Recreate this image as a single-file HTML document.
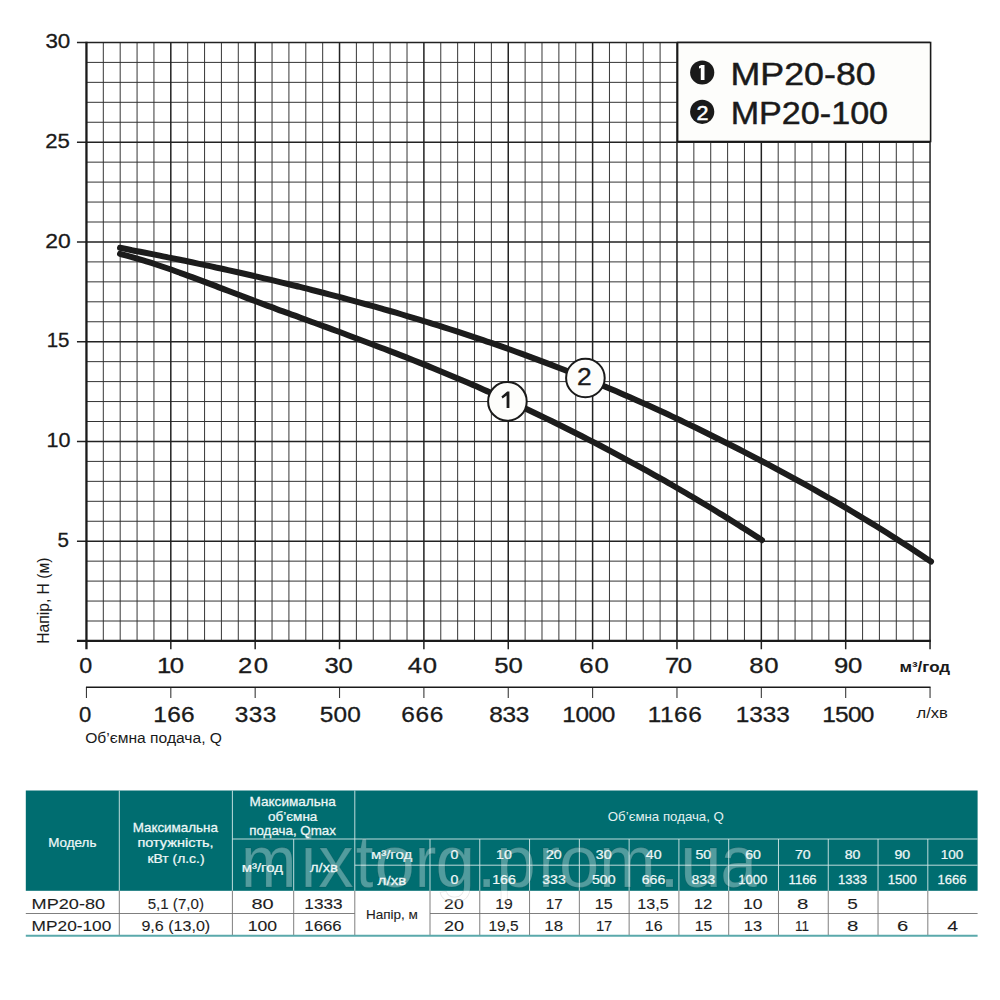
<!DOCTYPE html>
<html><head><meta charset="utf-8"><title>MP20 pump curves</title>
<style>
html,body{margin:0;padding:0;background:#fff;}
body{width:1000px;height:1000px;overflow:hidden;font-family:"Liberation Sans",sans-serif;}
svg{display:block;}
svg text{font-family:"Liberation Sans",sans-serif;}
</style></head><body>
<svg width="1000" height="1000" viewBox="0 0 1000 1000">
<rect width="1000" height="1000" fill="#ffffff"/>
<path d="M103.32 42.45V640.95M120.19 42.45V640.95M137.07 42.45V640.95M153.94 42.45V640.95M187.68 42.45V640.95M204.55 42.45V640.95M221.43 42.45V640.95M238.30 42.45V640.95M272.04 42.45V640.95M288.91 42.45V640.95M305.79 42.45V640.95M322.66 42.45V640.95M356.40 42.45V640.95M373.27 42.45V640.95M390.15 42.45V640.95M407.02 42.45V640.95M440.76 42.45V640.95M457.63 42.45V640.95M474.51 42.45V640.95M491.38 42.45V640.95M525.12 42.45V640.95M541.99 42.45V640.95M558.87 42.45V640.95M575.74 42.45V640.95M609.48 42.45V640.95M626.35 42.45V640.95M643.23 42.45V640.95M660.10 42.45V640.95M693.84 42.45V640.95M710.71 42.45V640.95M727.59 42.45V640.95M744.46 42.45V640.95M778.20 42.45V640.95M795.07 42.45V640.95M811.95 42.45V640.95M828.82 42.45V640.95M862.56 42.45V640.95M879.43 42.45V640.95M896.31 42.45V640.95M913.18 42.45V640.95" stroke="#404040" stroke-width="1.05" fill="none"/>
<path d="M86.45 621.00H930.05M86.45 601.05H930.05M86.45 581.10H930.05M86.45 561.15H930.05M86.45 521.25H930.05M86.45 501.30H930.05M86.45 481.35H930.05M86.45 461.40H930.05M86.45 421.50H930.05M86.45 401.55H930.05M86.45 381.60H930.05M86.45 361.65H930.05M86.45 321.75H930.05M86.45 301.80H930.05M86.45 281.85H930.05M86.45 261.90H930.05M86.45 222.00H930.05M86.45 202.05H930.05M86.45 182.10H930.05M86.45 162.15H930.05M86.45 122.25H930.05M86.45 102.30H930.05M86.45 82.35H930.05M86.45 62.40H930.05" stroke="#333" stroke-width="1.0" fill="none"/>
<path d="M170.81 42.45V649.15M255.17 42.45V649.15M339.53 42.45V649.15M423.89 42.45V649.15M508.25 42.45V649.15M592.61 42.45V649.15M676.97 42.45V649.15M761.33 42.45V649.15M845.69 42.45V649.15M930.05 42.45V649.15M76.95 541.20H930.05M76.95 441.45H930.05M76.95 341.70H930.05M76.95 241.95H930.05M76.95 142.20H930.05M76.95 42.45H930.05" stroke="#222" stroke-width="1.5" fill="none"/>
<path d="M86.45 41.75V649.15" stroke="#1a1a1a" stroke-width="2.3" fill="none"/>
<path d="M76.95 640.95H930.85" stroke="#1a1a1a" stroke-width="2.2" fill="none"/>
<path d="M86.45 687.30V697.90M170.81 687.30V697.90M255.17 687.30V697.90M339.53 687.30V697.90M423.89 687.30V697.90M508.25 687.30V697.90M592.61 687.30V697.90M676.97 687.30V697.90M761.33 687.30V697.90M845.69 687.30V697.90M930.05 687.30V697.90" stroke="#3a3a3a" stroke-width="1.1" fill="none"/>
<path d="M85.95 687.30H930.55" stroke="#1a1a1a" stroke-width="1.6" fill="none"/>
<path d="M120.0 253.8C122.0 254.4 128.0 256.0 132.0 257.1C136.0 258.3 140.0 259.5 144.0 260.7C148.0 261.9 152.0 263.2 156.0 264.5C160.0 265.8 164.0 267.2 168.0 268.5C172.0 269.9 176.0 271.3 180.0 272.8C184.0 274.2 188.0 275.6 192.0 277.1C196.0 278.6 200.0 280.1 204.0 281.6C208.0 283.1 212.0 284.6 216.0 286.1C220.0 287.7 224.0 289.2 228.0 290.7C232.0 292.2 236.0 293.8 240.0 295.3C244.0 296.8 248.0 298.4 252.0 299.9C256.0 301.4 260.0 302.9 264.0 304.4C268.0 305.9 272.0 307.4 276.0 308.8C280.0 310.3 284.0 311.8 288.0 313.2C292.0 314.7 296.0 316.2 300.0 317.6C304.0 319.1 308.0 320.5 312.0 322.0C316.0 323.4 320.0 324.9 324.0 326.4C328.0 327.8 332.0 329.3 336.0 330.8C340.0 332.2 344.0 333.7 348.0 335.2C352.0 336.7 356.0 338.2 360.0 339.7C364.0 341.2 368.0 342.7 372.0 344.2C376.0 345.7 380.0 347.2 384.0 348.8C388.0 350.3 392.0 351.9 396.0 353.4C400.0 355.0 404.0 356.6 408.0 358.1C412.0 359.7 416.0 361.3 420.0 362.9C424.0 364.5 428.0 366.1 432.0 367.8C436.0 369.4 440.0 371.1 444.0 372.7C448.0 374.4 452.0 376.0 456.0 377.7C460.0 379.4 464.0 381.1 468.0 382.8C472.0 384.6 476.0 386.3 480.0 388.0C484.0 389.8 488.0 391.6 492.0 393.3C496.0 395.1 500.0 396.9 504.0 398.7C508.0 400.5 512.0 402.4 516.0 404.2C520.0 406.1 524.0 407.9 528.0 409.8C532.0 411.7 536.0 413.6 540.0 415.5C544.0 417.4 548.0 419.4 552.0 421.3C556.0 423.3 560.0 425.2 564.0 427.2C568.0 429.2 572.0 431.2 576.0 433.2C580.0 435.2 584.0 437.3 588.0 439.3C592.0 441.4 596.0 443.4 600.0 445.5C604.0 447.6 608.0 449.7 612.0 451.8C616.0 454.0 620.0 456.1 624.0 458.3C628.0 460.4 632.0 462.6 636.0 464.8C640.0 467.0 644.0 469.2 648.0 471.4C652.0 473.7 656.0 475.9 660.0 478.2C664.0 480.4 668.0 482.7 672.0 485.0C676.0 487.3 680.0 489.7 684.0 492.0C688.0 494.3 692.0 496.7 696.0 499.1C700.0 501.5 704.0 503.9 708.0 506.3C712.0 508.7 716.0 511.1 720.0 513.6C724.0 516.0 728.0 518.5 732.0 521.0C736.0 523.5 740.0 526.0 744.0 528.6C748.0 531.1 753.0 534.3 756.0 536.2C759.0 538.1 761.0 539.4 762.0 540.1" stroke="#1c1c1c" stroke-width="6.0" fill="none" stroke-linecap="round" stroke-linejoin="round"/>
<path d="M120.0 247.8C122.0 248.2 128.0 249.4 132.0 250.2C136.0 250.9 140.0 251.7 144.0 252.5C148.0 253.3 152.0 254.1 156.0 254.9C160.0 255.7 164.0 256.5 168.0 257.4C172.0 258.2 176.0 259.0 180.0 259.8C184.0 260.7 188.0 261.5 192.0 262.3C196.0 263.2 200.0 264.0 204.0 264.9C208.0 265.7 212.0 266.6 216.0 267.5C220.0 268.3 224.0 269.2 228.0 270.1C232.0 271.0 236.0 271.9 240.0 272.8C244.0 273.7 248.0 274.6 252.0 275.5C256.0 276.4 260.0 277.4 264.0 278.3C268.0 279.2 272.0 280.2 276.0 281.1C280.0 282.1 284.0 283.0 288.0 284.0C292.0 285.0 296.0 286.0 300.0 286.9C304.0 287.9 308.0 288.9 312.0 290.0C316.0 291.0 320.0 292.0 324.0 293.0C328.0 294.0 332.0 295.1 336.0 296.1C340.0 297.2 344.0 298.2 348.0 299.3C352.0 300.4 356.0 301.5 360.0 302.6C364.0 303.7 368.0 304.8 372.0 305.9C376.0 307.0 380.0 308.1 384.0 309.3C388.0 310.4 392.0 311.6 396.0 312.7C400.0 313.9 404.0 315.1 408.0 316.3C412.0 317.5 416.0 318.7 420.0 319.9C424.0 321.1 428.0 322.3 432.0 323.6C436.0 324.8 440.0 326.1 444.0 327.3C448.0 328.6 452.0 329.9 456.0 331.2C460.0 332.5 464.0 333.8 468.0 335.1C472.0 336.4 476.0 337.8 480.0 339.1C484.0 340.5 488.0 341.9 492.0 343.2C496.0 344.6 500.0 346.0 504.0 347.4C508.0 348.8 512.0 350.3 516.0 351.7C520.0 353.2 524.0 354.6 528.0 356.1C532.0 357.6 536.0 359.1 540.0 360.6C544.0 362.1 548.0 363.6 552.0 365.1C556.0 366.7 560.0 368.2 564.0 369.8C568.0 371.4 572.0 373.0 576.0 374.6C580.0 376.2 584.0 377.8 588.0 379.4C592.0 381.1 596.0 382.7 600.0 384.4C604.0 386.1 608.0 387.8 612.0 389.5C616.0 391.2 620.0 392.9 624.0 394.7C628.0 396.4 632.0 398.2 636.0 399.9C640.0 401.7 644.0 403.5 648.0 405.3C652.0 407.1 656.0 409.0 660.0 410.8C664.0 412.6 668.0 414.5 672.0 416.4C676.0 418.3 680.0 420.1 684.0 422.1C688.0 424.0 692.0 425.9 696.0 427.8C700.0 429.8 704.0 431.7 708.0 433.7C712.0 435.7 716.0 437.7 720.0 439.7C724.0 441.7 728.0 443.7 732.0 445.7C736.0 447.7 740.0 449.8 744.0 451.8C748.0 453.9 752.0 456.0 756.0 458.1C760.0 460.2 764.0 462.3 768.0 464.4C772.0 466.5 776.0 468.7 780.0 470.8C784.0 473.0 788.0 475.1 792.0 477.3C796.0 479.5 800.0 481.7 804.0 483.9C808.0 486.1 812.0 488.4 816.0 490.6C820.0 492.9 824.0 495.2 828.0 497.5C832.0 499.8 836.0 502.1 840.0 504.4C844.0 506.8 848.0 509.1 852.0 511.5C856.0 513.9 860.0 516.3 864.0 518.7C868.0 521.1 872.0 523.6 876.0 526.0C880.0 528.5 884.0 531.0 888.0 533.5C892.0 536.0 896.0 538.6 900.0 541.2C904.0 543.7 908.0 546.3 912.0 548.9C916.0 551.6 920.8 554.8 924.0 556.9C927.2 559.0 929.8 560.8 931.0 561.6" stroke="#1c1c1c" stroke-width="6.0" fill="none" stroke-linecap="round" stroke-linejoin="round"/>
<circle cx="507.4" cy="401.4" r="19.3" fill="#fdfdfb" stroke="#1a1a1a" stroke-width="2.0"/>
<path d="M509.4 391.5V408H506.6V395.4L502.6 398.6L501.4 396.6L507.2 391.5Z" fill="#1a1a1a"/>
<circle cx="585.4" cy="378.0" r="19.3" fill="#fdfdfb" stroke="#1a1a1a" stroke-width="2.0"/>
<text transform="translate(577.08,385.00) scale(1.1467,1)" font-size="23" fill="#1a1a1a" stroke="#1a1a1a" stroke-width="0.35">2</text>
<rect x="677.6" y="42.5" width="253" height="99" fill="#fdfdfb" stroke="#1a1a1a" stroke-width="1.6"/>
<circle cx="702.2" cy="72.5" r="12.1" fill="#1a1a1a"/>
<path d="M699 66.2L701.2 65H704.5V80H700.8V68.1L699 68.6Z" fill="#fff"/>
<text transform="translate(730.54,84.50) scale(1.1361,1)" font-size="31.5" fill="#1a1a1a" stroke="#1a1a1a" stroke-width="0.45">MP20-80</text>
<circle cx="702.2" cy="111.8" r="12.1" fill="#1a1a1a"/>
<text transform="translate(696.52,119.50) scale(1.0256,1)" font-size="21" fill="#fff" stroke="#fff" stroke-width="0.5">2</text>
<text transform="translate(730.67,124.00) scale(1.0836,1)" font-size="31.5" fill="#1a1a1a" stroke="#1a1a1a" stroke-width="0.45">MP20-100</text>
<text transform="translate(57.47,546.80) scale(0.9825,1)" font-size="21" fill="#1a1a1a" stroke="#1a1a1a" stroke-width="0.3">5</text>
<text transform="translate(46.58,447.05) scale(1.0286,1)" font-size="21" fill="#1a1a1a" stroke="#1a1a1a" stroke-width="0.3">10</text>
<text transform="translate(46.66,347.30) scale(0.9763,1)" font-size="21" fill="#1a1a1a" stroke="#1a1a1a" stroke-width="0.3">15</text>
<text transform="translate(45.15,247.55) scale(1.0918,1)" font-size="21" fill="#1a1a1a" stroke="#1a1a1a" stroke-width="0.3">20</text>
<text transform="translate(45.19,147.80) scale(1.0551,1)" font-size="21" fill="#1a1a1a" stroke="#1a1a1a" stroke-width="0.3">25</text>
<text transform="translate(45.40,48.05) scale(1.0674,1)" font-size="21" fill="#1a1a1a" stroke="#1a1a1a" stroke-width="0.3">30</text>
<text transform="translate(79.27,672.70) scale(1.0703,1)" font-size="21.8" fill="#1a1a1a" stroke="#1a1a1a" stroke-width="0.3">0</text>
<text transform="translate(156.97,672.70) scale(1.1800,1)" font-size="21.8" letter-spacing="-1.207" fill="#1a1a1a" stroke="#1a1a1a" stroke-width="0.3">10</text>
<text transform="translate(237.91,672.70) scale(1.1800,1)" font-size="21.8" letter-spacing="1.384" fill="#1a1a1a" stroke="#1a1a1a" stroke-width="0.3">20</text>
<text transform="translate(324.57,672.70) scale(1.1800,1)" font-size="21.8" letter-spacing="-0.360" fill="#1a1a1a" stroke="#1a1a1a" stroke-width="0.3">30</text>
<text transform="translate(407.69,672.70) scale(1.1800,1)" font-size="21.8" letter-spacing="0.560" fill="#1a1a1a" stroke="#1a1a1a" stroke-width="0.3">40</text>
<text transform="translate(494.17,672.70) scale(1.1800,1)" font-size="21.8" letter-spacing="-0.021" fill="#1a1a1a" stroke="#1a1a1a" stroke-width="0.3">50</text>
<text transform="translate(579.31,672.70) scale(1.1800,1)" font-size="21.8" letter-spacing="0.706" fill="#1a1a1a" stroke="#1a1a1a" stroke-width="0.3">60</text>
<text transform="translate(664.91,672.70) scale(1.1800,1)" font-size="21.8" letter-spacing="-1.159" fill="#1a1a1a" stroke="#1a1a1a" stroke-width="0.3">70</text>
<text transform="translate(749.24,672.70) scale(1.1800,1)" font-size="21.8" letter-spacing="0.597" fill="#1a1a1a" stroke="#1a1a1a" stroke-width="0.3">80</text>
<text transform="translate(834.04,672.70) scale(1.1800,1)" font-size="21.8" letter-spacing="-0.251" fill="#1a1a1a" stroke="#1a1a1a" stroke-width="0.3">90</text>
<text transform="translate(79.12,722.20) scale(1.0130,1)" font-size="21.8" fill="#1a1a1a" stroke="#1a1a1a" stroke-width="0.3">0</text>
<text transform="translate(153.37,722.20) scale(1.1200,1)" font-size="21.8" letter-spacing="0.248" fill="#1a1a1a" stroke="#1a1a1a" stroke-width="0.3">166</text>
<text transform="translate(234.72,722.20) scale(1.1200,1)" font-size="21.8" letter-spacing="0.357" fill="#1a1a1a" stroke="#1a1a1a" stroke-width="0.3">333</text>
<text transform="translate(319.82,722.20) scale(1.1200,1)" font-size="21.8" letter-spacing="0.080" fill="#1a1a1a" stroke="#1a1a1a" stroke-width="0.3">500</text>
<text transform="translate(401.18,722.20) scale(1.1200,1)" font-size="21.8" letter-spacing="0.690" fill="#1a1a1a" stroke="#1a1a1a" stroke-width="0.3">666</text>
<text transform="translate(489.30,722.20) scale(1.1200,1)" font-size="21.8" letter-spacing="-0.347" fill="#1a1a1a" stroke="#1a1a1a" stroke-width="0.3">833</text>
<text transform="translate(562.17,722.20) scale(1.1200,1)" font-size="21.8" letter-spacing="-0.309" fill="#1a1a1a" stroke="#1a1a1a" stroke-width="0.3">1000</text>
<text transform="translate(647.77,722.20) scale(1.1200,1)" font-size="21.8" letter-spacing="0.450" fill="#1a1a1a" stroke="#1a1a1a" stroke-width="0.3">1166</text>
<text transform="translate(735.77,722.20) scale(1.1200,1)" font-size="21.8" letter-spacing="-0.095" fill="#1a1a1a" stroke="#1a1a1a" stroke-width="0.3">1333</text>
<text transform="translate(822.17,722.20) scale(1.1200,1)" font-size="21.8" letter-spacing="-0.607" fill="#1a1a1a" stroke="#1a1a1a" stroke-width="0.3">1500</text>
<text transform="translate(899.41,672.30) scale(1.1640,1)" font-size="14.6" fill="#1a1a1a" font-weight="bold">м³/год</text>
<text transform="translate(916.52,718.20) scale(1.1206,1)" font-size="14.8" fill="#1a1a1a">л/хв</text>
<text transform="translate(85.20,743.10) scale(1.0215,1)" font-size="15.3" fill="#1a1a1a">Об’ємна подача, Q</text>
<g transform="translate(49.0,642.5) rotate(-90)"><text transform="translate(-1.25,0.00) scale(0.9910,1)" font-size="15.8" fill="#1a1a1a">Напір, Н (м)</text></g>
<rect x="25.8" y="790.5" width="951.8000000000001" height="100.29999999999995" fill="#006d70"/>
<path d="M119.3 790.5V890.8M232.4 790.5V890.8M354.8 790.5V890.8M232.4 839.0H977.6M293.7 839.0V890.8M354.8 865.2H977.6M430.00 839.0V890.8M479.78 839.0V890.8M529.56 839.0V890.8M579.35 839.0V890.8M629.13 839.0V890.8M678.91 839.0V890.8M728.69 839.0V890.8M778.47 839.0V890.8M828.25 839.0V890.8M878.04 839.0V890.8M927.82 839.0V890.8" stroke="#d4e8e8" stroke-width="0.9" fill="none"/>
<path d="M119.3 890.8V935.8M232.4 890.8V935.8M293.7 890.8V935.8M354.8 890.8V935.8M430.00 890.8V935.8M479.78 890.8V935.8M529.56 890.8V935.8M579.35 890.8V935.8M629.13 890.8V935.8M678.91 890.8V935.8M728.69 890.8V935.8M778.47 890.8V935.8M828.25 890.8V935.8M878.04 890.8V935.8M927.82 890.8V935.8M25.8 913.5H354.8M430.0 913.5H977.6" stroke="#707070" stroke-width="0.9" fill="none"/>
<path d="M25.8 935.8H977.6" stroke="#5aa9ab" stroke-width="2.0" fill="none"/>
<text transform="translate(48.23,847.30) scale(1.0410,1)" font-size="12.9" fill="#eef7f7" stroke="#eef7f7" stroke-width="0.25">Модель</text>
<text transform="translate(132.63,831.50) scale(1.0398,1)" font-size="12.9" fill="#eef7f7" stroke="#eef7f7" stroke-width="0.25">Максимальна</text>
<text transform="translate(137.38,847.30) scale(1.1263,1)" font-size="12.9" fill="#eef7f7" stroke="#eef7f7" stroke-width="0.25">потужність,</text>
<text transform="translate(147.40,862.80) scale(1.0777,1)" font-size="12.9" fill="#eef7f7" stroke="#eef7f7" stroke-width="0.25">кВт (л.с.)</text>
<text transform="translate(249.51,805.80) scale(1.0521,1)" font-size="12.9" fill="#eef7f7" stroke="#eef7f7" stroke-width="0.25">Максимальна</text>
<text transform="translate(267.96,820.50) scale(1.0486,1)" font-size="12.9" fill="#eef7f7" stroke="#eef7f7" stroke-width="0.25">об’ємна</text>
<text transform="translate(249.26,835.20) scale(1.0356,1)" font-size="12.9" fill="#eef7f7" stroke="#eef7f7" stroke-width="0.25">подача, Qmax</text>
<text transform="translate(241.75,872.00) scale(1.1584,1)" font-size="12.9" fill="#eef7f7" stroke="#eef7f7" stroke-width="0.25">м³/год</text>
<text transform="translate(309.93,872.00) scale(1.1470,1)" font-size="12.9" fill="#eef7f7" stroke="#eef7f7" stroke-width="0.25">л/хв</text>
<text transform="translate(607.80,821.20) scale(1.0697,1)" font-size="12.4" fill="#e4f1f1">Об’ємна подача, Q</text>
<text transform="translate(370.95,859.40) scale(1.1584,1)" font-size="12.9" fill="#eef7f7" stroke="#eef7f7" stroke-width="0.25">м³/год</text>
<text transform="translate(377.62,884.60) scale(1.1722,1)" font-size="12.9" fill="#eef7f7" stroke="#eef7f7" stroke-width="0.25">л/хв</text>
<text transform="translate(450.43,858.70) scale(1.1500,1)" font-size="12.3" fill="#eef7f7" stroke="#eef7f7" stroke-width="0.25">0</text>
<text transform="translate(450.43,884.30) scale(1.1500,1)" font-size="12.3" fill="#eef7f7" stroke="#eef7f7" stroke-width="0.25">0</text>
<text transform="translate(496.04,858.70) scale(1.1500,1)" font-size="12.3" fill="#eef7f7" stroke="#eef7f7" stroke-width="0.25">10</text>
<text transform="translate(492.15,884.30) scale(1.1500,1)" font-size="12.3" fill="#eef7f7" stroke="#eef7f7" stroke-width="0.25">166</text>
<text transform="translate(546.00,858.70) scale(1.1500,1)" font-size="12.3" fill="#eef7f7" stroke="#eef7f7" stroke-width="0.25">20</text>
<text transform="translate(542.18,884.30) scale(1.1500,1)" font-size="12.3" fill="#eef7f7" stroke="#eef7f7" stroke-width="0.25">333</text>
<text transform="translate(595.85,858.70) scale(1.1500,1)" font-size="12.3" fill="#eef7f7" stroke="#eef7f7" stroke-width="0.25">30</text>
<text transform="translate(591.93,884.30) scale(1.1500,1)" font-size="12.3" fill="#eef7f7" stroke="#eef7f7" stroke-width="0.25">500</text>
<text transform="translate(645.77,858.70) scale(1.1500,1)" font-size="12.3" fill="#eef7f7" stroke="#eef7f7" stroke-width="0.25">40</text>
<text transform="translate(641.67,884.30) scale(1.1500,1)" font-size="12.3" fill="#eef7f7" stroke="#eef7f7" stroke-width="0.25">666</text>
<text transform="translate(695.41,858.70) scale(1.1500,1)" font-size="12.3" fill="#eef7f7" stroke="#eef7f7" stroke-width="0.25">50</text>
<text transform="translate(691.49,884.30) scale(1.1500,1)" font-size="12.3" fill="#eef7f7" stroke="#eef7f7" stroke-width="0.25">833</text>
<text transform="translate(745.13,858.70) scale(1.1500,1)" font-size="12.3" fill="#eef7f7" stroke="#eef7f7" stroke-width="0.25">60</text>
<text transform="translate(738.32,884.30) scale(1.0600,1)" font-size="12.3" fill="#eef7f7" stroke="#eef7f7" stroke-width="0.25">1000</text>
<text transform="translate(794.91,858.70) scale(1.1500,1)" font-size="12.3" fill="#eef7f7" stroke="#eef7f7" stroke-width="0.25">70</text>
<text transform="translate(788.62,884.30) scale(1.0600,1)" font-size="12.3" fill="#eef7f7" stroke="#eef7f7" stroke-width="0.25">1166</text>
<text transform="translate(844.72,858.70) scale(1.1500,1)" font-size="12.3" fill="#eef7f7" stroke="#eef7f7" stroke-width="0.25">80</text>
<text transform="translate(837.91,884.30) scale(1.0600,1)" font-size="12.3" fill="#eef7f7" stroke="#eef7f7" stroke-width="0.25">1333</text>
<text transform="translate(894.51,858.70) scale(1.1500,1)" font-size="12.3" fill="#eef7f7" stroke="#eef7f7" stroke-width="0.25">90</text>
<text transform="translate(887.66,884.30) scale(1.0600,1)" font-size="12.3" fill="#eef7f7" stroke="#eef7f7" stroke-width="0.25">1500</text>
<text transform="translate(940.67,858.70) scale(1.1000,1)" font-size="12.3" fill="#eef7f7" stroke="#eef7f7" stroke-width="0.25">100</text>
<text transform="translate(937.48,884.30) scale(1.0600,1)" font-size="12.3" fill="#eef7f7" stroke="#eef7f7" stroke-width="0.25">1666</text>
<text transform="translate(31.55,908.70) scale(1.1861,1)" font-size="15.3" fill="#1d1d1d" stroke="#1d1d1d" stroke-width="0.1">MP20-80</text>
<text transform="translate(31.62,931.10) scale(1.1300,1)" font-size="15.3" fill="#1d1d1d" stroke="#1d1d1d" stroke-width="0.1">MP20-100</text>
<text transform="translate(147.70,908.70) scale(0.9876,1)" font-size="15.3" fill="#1d1d1d" stroke="#1d1d1d" stroke-width="0.1">5,1 (7,0)</text>
<text transform="translate(141.38,931.10) scale(1.0517,1)" font-size="15.3" fill="#1d1d1d" stroke="#1d1d1d" stroke-width="0.1">9,6 (13,0)</text>
<text transform="translate(251.50,908.70) scale(1.3072,1)" font-size="15.3" fill="#1d1d1d" stroke="#1d1d1d" stroke-width="0.1">80</text>
<text transform="translate(247.68,931.10) scale(1.1517,1)" font-size="15.3" fill="#1d1d1d" stroke="#1d1d1d" stroke-width="0.1">100</text>
<text transform="translate(304.31,908.70) scale(1.1275,1)" font-size="15.3" fill="#1d1d1d" stroke="#1d1d1d" stroke-width="0.1">1333</text>
<text transform="translate(304.34,931.10) scale(1.0966,1)" font-size="15.3" fill="#1d1d1d" stroke="#1d1d1d" stroke-width="0.1">1666</text>
<text transform="translate(365.92,918.70) scale(1.0251,1)" font-size="13.2" fill="#1d1d1d" stroke="#1d1d1d" stroke-width="0.1">Напір, м</text>
<text transform="translate(444.12,908.70) scale(1.1478,1)" font-size="15.3" fill="#1d1d1d" stroke="#1d1d1d" stroke-width="0.1">20</text>
<text transform="translate(495.22,908.70) scale(1.0299,1)" font-size="15.3" fill="#1d1d1d" stroke="#1d1d1d" stroke-width="0.1">19</text>
<text transform="translate(545.86,908.70) scale(0.9953,1)" font-size="15.3" fill="#1d1d1d" stroke="#1d1d1d" stroke-width="0.1">17</text>
<text transform="translate(594.79,908.70) scale(1.0510,1)" font-size="15.3" fill="#1d1d1d" stroke="#1d1d1d" stroke-width="0.1">15</text>
<text transform="translate(637.19,908.70) scale(1.0572,1)" font-size="15.3" fill="#1d1d1d" stroke="#1d1d1d" stroke-width="0.1">13,5</text>
<text transform="translate(693.74,908.70) scale(1.1015,1)" font-size="15.3" fill="#1d1d1d" stroke="#1d1d1d" stroke-width="0.1">12</text>
<text transform="translate(743.08,908.70) scale(1.1503,1)" font-size="15.3" fill="#1d1d1d" stroke="#1d1d1d" stroke-width="0.1">10</text>
<text transform="translate(797.08,908.70) scale(1.3350,1)" font-size="15.3" fill="#1d1d1d" stroke="#1d1d1d" stroke-width="0.1">8</text>
<text transform="translate(847.24,908.70) scale(1.2384,1)" font-size="15.3" fill="#1d1d1d" stroke="#1d1d1d" stroke-width="0.1">5</text>
<text transform="translate(444.10,931.10) scale(1.1733,1)" font-size="15.3" fill="#1d1d1d" stroke="#1d1d1d" stroke-width="0.1">20</text>
<text transform="translate(488.44,931.10) scale(1.0143,1)" font-size="15.3" fill="#1d1d1d" stroke="#1d1d1d" stroke-width="0.1">19,5</text>
<text transform="translate(544.33,931.10) scale(1.1036,1)" font-size="15.3" fill="#1d1d1d" stroke="#1d1d1d" stroke-width="0.1">18</text>
<text transform="translate(595.89,931.10) scale(0.9688,1)" font-size="15.3" fill="#1d1d1d" stroke="#1d1d1d" stroke-width="0.1">17</text>
<text transform="translate(644.79,931.10) scale(1.0510,1)" font-size="15.3" fill="#1d1d1d" stroke="#1d1d1d" stroke-width="0.1">16</text>
<text transform="translate(694.82,931.10) scale(1.0247,1)" font-size="15.3" fill="#1d1d1d" stroke="#1d1d1d" stroke-width="0.1">15</text>
<text transform="translate(743.76,931.10) scale(1.0773,1)" font-size="15.3" fill="#1d1d1d" stroke="#1d1d1d" stroke-width="0.1">13</text>
<text transform="translate(794.98,931.10) scale(0.8857,1)" font-size="15.3" fill="#1d1d1d" stroke="#1d1d1d" stroke-width="0.1">11</text>
<text transform="translate(847.08,931.10) scale(1.3350,1)" font-size="15.3" fill="#1d1d1d" stroke="#1d1d1d" stroke-width="0.1">8</text>
<text transform="translate(896.99,931.10) scale(1.3212,1)" font-size="15.3" fill="#1d1d1d" stroke="#1d1d1d" stroke-width="0.1">6</text>
<text transform="translate(947.21,931.10) scale(1.2684,1)" font-size="15.3" fill="#1d1d1d" stroke="#1d1d1d" stroke-width="0.1">4</text>
<g><text transform="translate(241.08,887.20) scale(0.8870,1)" font-size="75" fill="#ffffff" fill-opacity="0.32" stroke="#000" stroke-opacity="0.10" stroke-width="0.8">m</text><text transform="translate(300.99,887.20) scale(0.9037,1)" font-size="75" fill="#ffffff" fill-opacity="0.32" stroke="#000" stroke-opacity="0.10" stroke-width="0.8">i</text><text transform="translate(318.29,887.20) scale(0.9444,1)" font-size="75" fill="#ffffff" fill-opacity="0.32" stroke="#000" stroke-opacity="0.10" stroke-width="0.8">x</text><text transform="translate(355.85,887.20) scale(0.8471,1)" font-size="75" fill="#ffffff" fill-opacity="0.32" stroke="#000" stroke-opacity="0.10" stroke-width="0.8">t</text><text transform="translate(374.50,887.20) scale(0.9656,1)" font-size="75" fill="#ffffff" fill-opacity="0.32" stroke="#000" stroke-opacity="0.10" stroke-width="0.8">o</text><text transform="translate(415.04,887.20) scale(0.8533,1)" font-size="75" fill="#ffffff" fill-opacity="0.32" stroke="#000" stroke-opacity="0.10" stroke-width="0.8">r</text><text transform="translate(435.56,887.20) scale(0.9481,1)" font-size="75" fill="#ffffff" fill-opacity="0.32" stroke="#000" stroke-opacity="0.10" stroke-width="0.8">g</text><text transform="translate(476.95,887.20) scale(0.9263,1)" font-size="75" fill="#ffffff" fill-opacity="0.32" stroke="#000" stroke-opacity="0.10" stroke-width="0.8">.</text><text transform="translate(496.18,887.20) scale(0.9481,1)" font-size="75" fill="#ffffff" fill-opacity="0.32" stroke="#000" stroke-opacity="0.10" stroke-width="0.8">p</text><text transform="translate(538.64,887.20) scale(0.8533,1)" font-size="75" fill="#ffffff" fill-opacity="0.32" stroke="#000" stroke-opacity="0.10" stroke-width="0.8">r</text><text transform="translate(559.10,887.20) scale(0.9656,1)" font-size="75" fill="#ffffff" fill-opacity="0.32" stroke="#000" stroke-opacity="0.10" stroke-width="0.8">o</text><text transform="translate(599.20,887.20) scale(0.9021,1)" font-size="75" fill="#ffffff" fill-opacity="0.32" stroke="#000" stroke-opacity="0.10" stroke-width="0.8">m</text><text transform="translate(659.17,887.20) scale(0.9825,1)" font-size="75" fill="#ffffff" fill-opacity="0.32" stroke="#000" stroke-opacity="0.10" stroke-width="0.8">.</text><text transform="translate(679.91,887.20) scale(1.0039,1)" font-size="75" fill="#ffffff" fill-opacity="0.32" stroke="#000" stroke-opacity="0.10" stroke-width="0.8">u</text><text transform="translate(720.59,887.20) scale(0.8699,1)" font-size="75" fill="#ffffff" fill-opacity="0.32" stroke="#000" stroke-opacity="0.10" stroke-width="0.8">a</text></g>
</svg>
</body></html>
